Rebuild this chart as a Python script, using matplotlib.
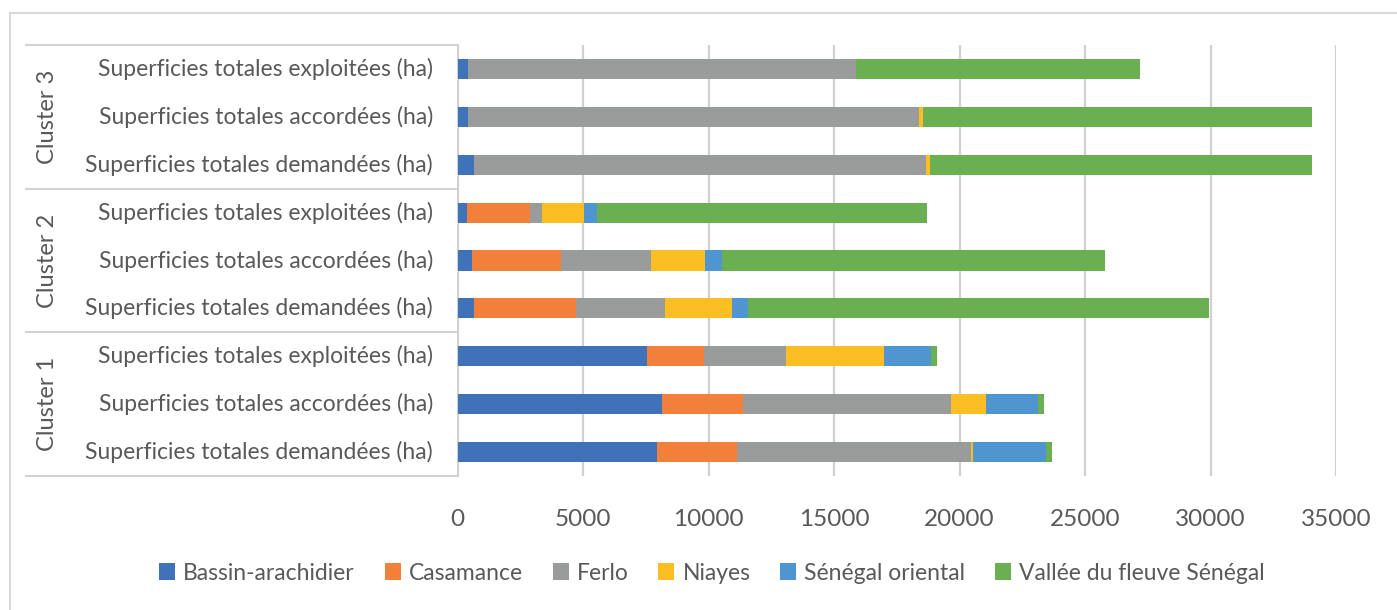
import matplotlib.pyplot as plt
from matplotlib.patches import Patch, Rectangle
import numpy as np

# superficies par cluster, de bas en haut (cluster 1 -> cluster 3)
regions = ["Bassin-arachidier", "Casamance", "Ferlo", "Niayes",
           "Sénégal oriental", "Vallée du fleuve Sénégal"]
colors = ["#3F72B9", "#F0803A", "#9A9C9C", "#FDBE24", "#4F96D0", "#6AAF52"]

rows = ["Superficies totales demandées (ha)",
        "Superficies totales accordées (ha)",
        "Superficies totales exploitées (ha)"] * 3
clusters = ["Cluster 1", "Cluster 2", "Cluster 3"]

bassin = [7955, 8165, 7530, 670, 565, 390, 660, 400, 400]
casamance = [3190, 3190, 2285, 4040, 3565, 2500, 0, 0, 0]
ferlo = [9325, 8305, 3255, 3560, 3560, 490, 17990, 17970, 15480]
niayes = [80, 1385, 3930, 2660, 2180, 1650, 160, 160, 0]
senegal_or = [2885, 2075, 1870, 640, 650, 530, 0, 0, 0]
vallee = [265, 265, 250, 18360, 15260, 13150, 15220, 15500, 11330]

series = [bassin, casamance, ferlo, niayes, senegal_or, vallee]

txt = "#595959"
line_c = "#D0D0D0"
plt.rcParams['font.family'] = ['Lato', 'DejaVu Sans']

fig = plt.figure(figsize=(13.97, 6.10), dpi=100)
W, H = 1397, 610
ax = fig.add_axes([457.5 / W, (H - 476) / H, (1336 - 457.5) / W, (476 - 45) / H])

y = np.arange(len(rows))
left = np.zeros(len(rows))
for vals, c in zip(series, colors):
    ax.barh(y, vals, left=left, height=0.42, color=c, zorder=3)
    left += np.array(vals)

ax.set_xlim(0, 35000)
ax.set_ylim(-0.5, len(rows) - 0.5)
ax.set_xticks(range(0, 35001, 5000))
ax.set_xticklabels([str(v) for v in range(0, 35001, 5000)], fontsize=17.5, color=txt)
ax.tick_params(axis='x', length=0, pad=24)
ax.set_yticks([])
ax.grid(axis='x', color=line_c, linewidth=1.6, zorder=0)
for s in ax.spines.values():
    s.set_visible(False)

# category table on the left
tr = ax.get_yaxis_transform()
for i, r in enumerate(rows):
    ax.text(-0.028, i, r, transform=tr, ha='right', va='center',
            fontsize=16.5, color=txt)
for k, name in enumerate(clusters):
    ax.text(-0.467, 3 * k + 1, name, transform=tr, ha='center', va='center',
            rotation=90, fontsize=17, color=txt)
for yb in [-0.5, 2.5, 5.5, 8.5]:
    ax.plot([-0.491, 0], [yb, yb], transform=tr, color=line_c,
            linewidth=1.4, clip_on=False)
ax.plot([0, 0], [-0.5, 8.5], transform=tr, color=line_c,
        linewidth=1.4, clip_on=False)

# outer frame
fig.add_artist(Rectangle((10 / W, -0.1), 1.2, (H - 13) / H + 0.1,
                         transform=fig.transFigure, fill=False,
                         edgecolor="#D9D9D9", linewidth=1.5))

handles = [Patch(facecolor=c, label=r) for r, c in zip(regions, colors)]
fig.legend(handles=handles, loc='center', bbox_to_anchor=(712 / W, (H - 573) / H),
           ncol=6, frameon=False, fontsize=16.5, handlelength=0.7, handleheight=0.7,
           handletextpad=0.35, columnspacing=1.3, labelcolor=txt)

fig.savefig("out.png", dpi=100)
